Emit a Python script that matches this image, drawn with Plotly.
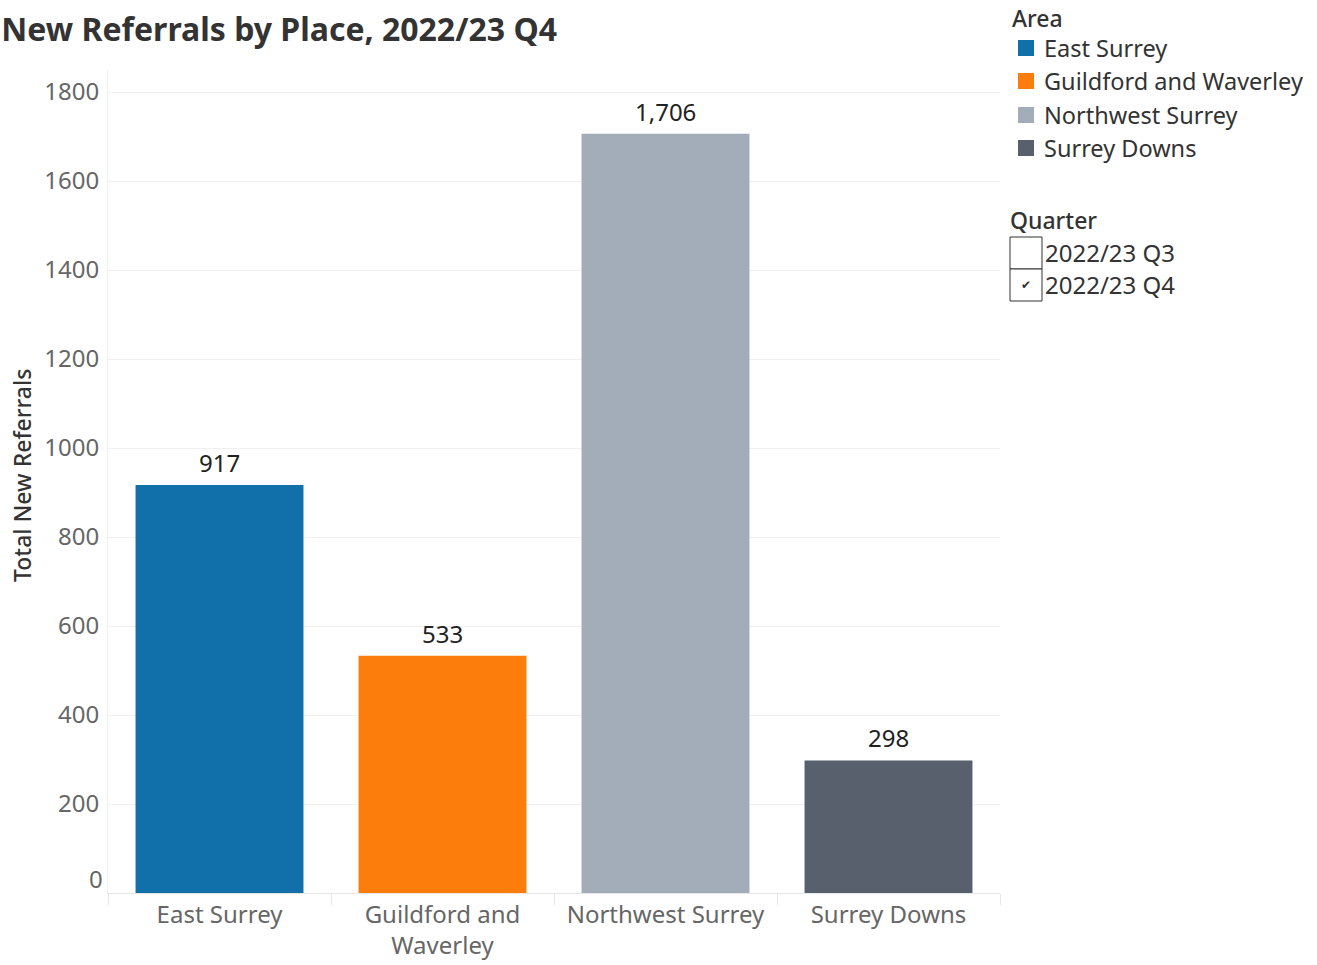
import plotly.graph_objects as go

# Data
areas = ["East Surrey", "Guildford and Waverley", "Northwest Surrey", "Surrey Downs"]
area_ticks = ["East Surrey", "Guildford and<br>Waverley", "Northwest Surrey", "Surrey Downs"]
referrals = [917, 533, 1706, 298]
colors = ["#1170aa", "#fc7d0b", "#a3acb9", "#57606c"]
quarters = ["2022/23 Q3", "2022/23 Q4"]
quarter_selected = [False, True]
y_ticks = [200, 400, 600, 800, 1000, 1200, 1400, 1600, 1800]

W, H = 1317, 965
ML, MR, MT, MB = 108, 317, 70, 72
PW, PH = W - ML - MR, H - MT - MB
FONT = "Noto Sans"


def xp(px):
    return (px - ML) / PW


def yp(py):
    return (H - MB - py) / PH


fig = go.Figure()
fig.add_trace(go.Bar(
    x=areas, y=referrals,
    marker=dict(color=colors, line=dict(width=0)),
    showlegend=False, hoverinfo="x+y",
))

annotations = []
# value labels above bars
for a, v in zip(areas, referrals):
    annotations.append(dict(
        x=a, y=v, xref="x", yref="y", text=f"{v:,}", showarrow=False,
        yanchor="bottom", yshift=4, font=dict(family=FONT, size=24, color="#222222"),
    ))
# zero label sits a little above the baseline
annotations.append(dict(
    x=0, y=0, xref="paper", yref="y", text="0", showarrow=False,
    xanchor="right", yanchor="middle", xshift=-3, yshift=15,
    font=dict(family=FONT, size=24, color="#666666"),
))
# y axis title
annotations.append(dict(
    x=xp(22), y=yp(476), xref="paper", yref="paper", text="Total New Referrals",
    showarrow=False, textangle=-90, xanchor="center", yanchor="middle",
    font=dict(family=FONT, size=23, color="#333333", weight=500),
))

shapes = []
# Area legend
annotations.append(dict(
    x=xp(1010), y=yp(18), xref="paper", yref="paper", text="Area", showarrow=False,
    xanchor="left", yanchor="middle",
    font=dict(family=FONT, size=23, color="#333333", weight=500),
))
row_y = [48, 81, 115, 148]
for name, col, ry in zip(areas, colors, row_y):
    shapes.append(dict(
        type="rect", xref="paper", yref="paper",
        x0=xp(1018), x1=xp(1034), y0=yp(ry + 8), y1=yp(ry - 8),
        fillcolor=col, line=dict(width=0),
    ))
    annotations.append(dict(
        x=xp(1042), y=yp(ry), xref="paper", yref="paper", text=name, showarrow=False,
        xanchor="left", yanchor="middle", font=dict(family=FONT, size=23.5, color="#333333"),
    ))

# Quarter filter
annotations.append(dict(
    x=xp(1008), y=yp(220), xref="paper", yref="paper", text="Quarter", showarrow=False,
    xanchor="left", yanchor="middle",
    font=dict(family=FONT, size=23, color="#333333", weight=500),
))
box_top = [237, 269]
for q, sel, bt in zip(quarters, quarter_selected, box_top):
    shapes.append(dict(
        type="rect", xref="paper", yref="paper",
        x0=xp(1010), x1=xp(1042), y0=yp(bt + 32), y1=yp(bt),
        fillcolor="white", line=dict(color="#333333", width=1),
    ))
    if sel:
        annotations.append(dict(
            x=xp(1026), y=yp(bt + 16), xref="paper", yref="paper", text="✔", showarrow=False,
            xanchor="center", yanchor="middle", font=dict(family="DejaVu Sans", size=12, color="#333333"),
        ))
    annotations.append(dict(
        x=xp(1043), y=yp(bt + 15), xref="paper", yref="paper", text=q, showarrow=False,
        xanchor="left", yanchor="middle", font=dict(family=FONT, size=24, color="#333333"),
    ))

fig.update_layout(
    width=W, height=H,
    margin=dict(l=ML, r=MR, t=MT, b=MB, autoexpand=False),
    paper_bgcolor="white", plot_bgcolor="white",
    bargap=0.247,
    title=dict(
        text="<b>New Referrals by Place, 2022/23 Q4</b>",
        x=0.001, xref="container", xanchor="left",
        y=1 - 30 / H, yref="container", yanchor="middle",
        font=dict(family=FONT, size=32, color="#333333"),
    ),
    xaxis=dict(
        tickvals=areas, ticktext=area_ticks, tickson="boundaries",
        ticks="outside", ticklen=11, tickcolor="#e6e6e6", tickwidth=1,
        showline=True, linecolor="#e6e6e6", linewidth=1,
        showgrid=False, zeroline=False,
        tickfont=dict(family=FONT, size=24, color="#666666"),
    ),
    yaxis=dict(
        range=[0, PH / (801 / 1800)], tickvals=y_ticks,
        showgrid=True, gridcolor="#f0f0f0", gridwidth=1,
        zeroline=False, showline=True, linecolor="#f0f0f0", linewidth=1,
        ticks="", ticklabelstandoff=3,
        tickfont=dict(family=FONT, size=24, color="#666666"),
    ),
    annotations=annotations,
    shapes=shapes,
)

fig.write_html("out.html")
